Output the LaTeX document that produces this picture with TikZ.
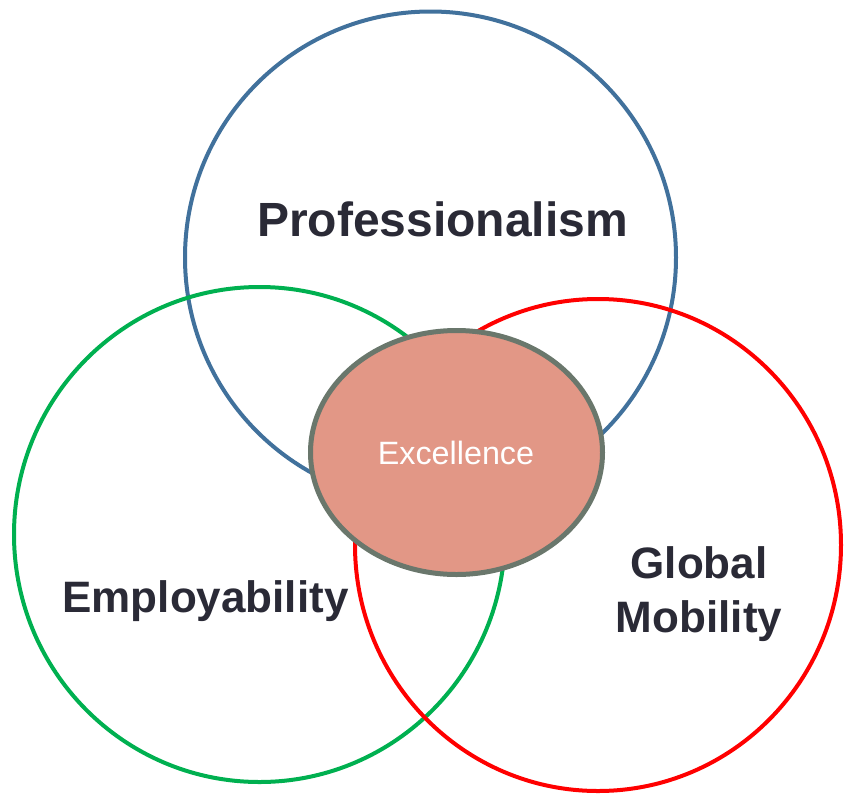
\documentclass[tikz,border=0pt]{standalone}
\usepackage{fontspec}
\setmainfont{Liberation Sans}
\usetikzlibrary{shapes.geometric}
\definecolor{cblue}{HTML}{41719C}
\definecolor{cgreen}{HTML}{00B050}
\definecolor{cred}{HTML}{FF0000}
\definecolor{cfill}{HTML}{E29786}
\definecolor{cedge}{HTML}{6A776C}
\definecolor{ctext}{HTML}{2A2A36}
\tikzset{
  ring/.style={ellipse, draw, line width=4pt, inner sep=0pt},
  lbl/.style={anchor=base, text=ctext, font=\bfseries\fontsize{44}{52}\selectfont},
}
\begin{document}
\begin{tikzpicture}[x=1pt,y=-1pt]
\useasboundingbox (0,0) rectangle (844,796);
\node[ring, draw=cblue, minimum width=491pt, minimum height=492pt] (prof) at (430.5,257.5) {};
\node[ring, draw=cgreen, minimum width=491pt, minimum height=495pt] (empl) at (259.5,534.5) {};
\node[ring, draw=cred, minimum width=486pt, minimum height=492pt] (glob) at (598,545) {};
\node[ellipse, draw=cedge, fill=cfill, line width=5pt, minimum width=292pt, minimum height=244pt, inner sep=0pt] (exc) at (456.5,452.5) {};
\node[anchor=base, text=white, font=\fontsize{32.3}{36}\selectfont] (exct) at (456,464) {Excellence};
\node[lbl, font=\bfseries\fontsize{48}{56}\selectfont] (proft) at (442.5,236) {Professionalism};
\node[lbl] (emplt) at (205.5,612) {Employability};
\node[lbl] (globt) at (699,578) {Global};
\node[lbl] (mobt) at (699,632) {Mobility};
\end{tikzpicture}
\end{document}
